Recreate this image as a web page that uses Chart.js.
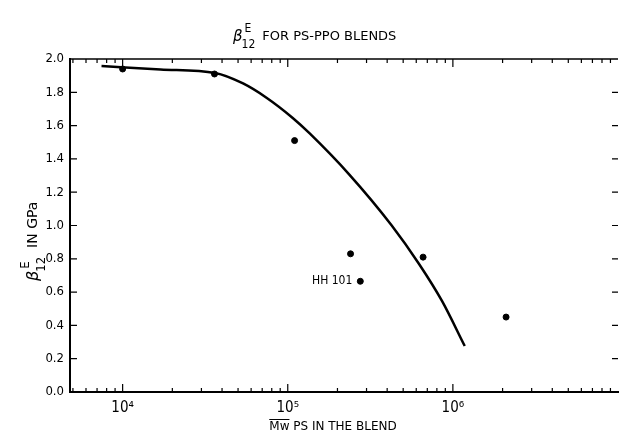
<!DOCTYPE html>
<html>
<head>
<meta charset="utf-8">
<script src="https://cdn.jsdelivr.net/npm/chart.js@4.4.1/dist/chart.umd.min.js"></script>
<style>
  body { margin: 0; background: #fff; }
  #wrap { width: 623px; height: 434px; position: relative; }
</style>
</head>
<body>
<div id="wrap"><canvas id="myChart"></canvas></div>
<script>
// medidas (Mw do PS, modulo em GPa)
var mwPontos = [1.0e4, 3.6e4, 1.1e5, 2.4e5, 2.75e5, 6.6e5, 2.1e6];
var betaPontos = [1.94, 1.91, 1.51, 0.83, 0.665, 0.81, 0.45];
var rotulosPontos = ['', '', '', '', 'HH 101', '', ''];

// curva ajustada
var mwCurva = [7450, 16960, 36300, 53600, 74700, 107200, 135800, 236000, 424000, 624000, 859000, 1180000];
var betaCurva = [1.958, 1.937, 1.916, 1.853, 1.766, 1.646, 1.553, 1.306, 1.003, 0.769, 0.547, 0.276];

// ticks
var xMajor = [1e4, 1e5, 1e6];
var xMajorLabels = ['10⁴', '10⁵', '10⁶'];
var xMin = 4800, xMax = 1e7;
var yMin = 0, yMax = 2.0, yStep = 0.2;

var fonte = '"DejaVu Sans Condensed", "Liberation Sans Narrow", "DejaVu Sans", sans-serif';

function pares(xs, ys) {
    return xs.map(function (x, i) { return { x: x, y: ys[i] }; });
}

// beta com E em cima e 12 embaixo, devolve a largura
function desenhaBeta(ctx, x, y, tam) {
    ctx.font = 'italic ' + (tam + 3) + 'px "DejaVu Sans"';
    ctx.fillText('β', x, y + 1);
    var w = ctx.measureText('β').width;
    ctx.font = tam + 'px ' + fonte;
    ctx.fillText('E', x + w + 2, y - 8);
    ctx.fillText('12', x + w - 1, y + 8);
    return w + ctx.measureText('12').width;
}

var moldura = {
    id: 'moldura',
    afterDraw: function (chart) {
        var ctx = chart.ctx;
        var a = chart.chartArea;
        var xs = chart.scales.x, ys = chart.scales.y;
        ctx.save();
        ctx.fillStyle = '#000';
        ctx.strokeStyle = '#000';

        // borda de cima
        ctx.lineWidth = 1.5;
        ctx.beginPath();
        ctx.moveTo(a.left, a.top);
        ctx.lineTo(a.right, a.top);
        ctx.stroke();

        // ticks do eixo x (embaixo e em cima), para dentro
        ctx.lineWidth = 1.2;
        for (var d = 3; d <= 6; d++) {
            for (var m = 1; m <= 9; m++) {
                var v = m * Math.pow(10, d);
                if (v <= xMin || v >= xMax) continue;
                var px = xs.getPixelForValue(v);
                var len = m === 1 ? 8 : 4;
                ctx.beginPath();
                ctx.moveTo(px, a.bottom);
                ctx.lineTo(px, a.bottom - len);
                ctx.moveTo(px, a.top);
                ctx.lineTo(px, a.top + len);
                ctx.stroke();
            }
        }
        // ticks do eixo y (esquerda e direita)
        for (var t = yMin + yStep; t < yMax - 0.01; t += yStep) {
            var py = ys.getPixelForValue(t);
            ctx.beginPath();
            ctx.moveTo(a.left, py);
            ctx.lineTo(a.left + 7, py);
            ctx.moveTo(a.right, py);
            ctx.lineTo(a.right - 6, py);
            ctx.stroke();
        }

        // titulo
        ctx.textBaseline = 'alphabetic';
        ctx.textAlign = 'left';
        var w = desenhaBeta(ctx, 233, 40, 12);
        ctx.font = '13px "DejaVu Sans"';
        ctx.fillText('FOR PS-PPO BLENDS', 233 + w + 6, 40);

        // titulo do eixo x
        ctx.font = '12px "DejaVu Sans"';
        var txt = 'Mw PS IN THE BLEND';
        var tw = ctx.measureText(txt).width;
        var x0 = 333 - tw / 2;
        ctx.fillText(txt, x0, 430);
        var mw = ctx.measureText('Mw').width;
        ctx.lineWidth = 1;
        ctx.beginPath();
        ctx.moveTo(x0, 419.5);
        ctx.lineTo(x0 + mw, 419.5);
        ctx.stroke();

        // titulo do eixo y (girado)
        ctx.save();
        ctx.translate(37, 281);
        ctx.rotate(-Math.PI / 2);
        var wb = desenhaBeta(ctx, 0, 0, 13);
        ctx.font = '14px "DejaVu Sans"';
        ctx.fillText('IN GPa', wb + 8, 0);
        ctx.restore();

        // rotulo do ponto
        var meta = chart.getDatasetMeta(1);
        ctx.font = '12px ' + fonte;
        ctx.textAlign = 'right';
        ctx.textBaseline = 'middle';
        rotulosPontos.forEach(function (r, i) {
            if (!r) return;
            var p = meta.data[i];
            ctx.fillText(r, p.x - 8, p.y);
        });
        ctx.restore();
    }
};

var config = {
    type: 'scatter',
    data: {
        datasets: [{
            label: 'curva',
            data: pares(mwCurva, betaCurva),
            showLine: true,
            borderColor: '#000',
            borderWidth: 2.5,
            pointRadius: 0,
            cubicInterpolationMode: 'monotone',
            fill: false
        }, {
            label: 'medidas',
            data: pares(mwPontos, betaPontos),
            backgroundColor: '#000',
            borderColor: '#000',
            pointRadius: 3,
            showLine: false
        }]
    },
    options: {
        responsive: true,
        maintainAspectRatio: false,
        animation: false,
        layout: { padding: { top: 59, right: 1, left: 0, bottom: 0 } },
        plugins: {
            legend: { display: false },
            tooltip: { enabled: false }
        },
        scales: {
            x: {
                type: 'logarithmic',
                min: xMin,
                max: xMax,
                afterFit: function (s) { s.height = 42; },
                afterBuildTicks: function (s) {
                    s.ticks = xMajor.map(function (v) { return { value: v }; });
                },
                ticks: {
                    autoSkip: false,
                    maxRotation: 0,
                    padding: 7,
                    color: '#000',
                    font: { family: fonte, size: 15 },
                    callback: function (v) {
                        var i = xMajor.indexOf(v);
                        return i >= 0 ? xMajorLabels[i] : '';
                    }
                },
                grid: { display: true, drawOnChartArea: false, drawTicks: false },
                border: { display: true, width: 2, color: '#000' }
            },
            y: {
                min: yMin,
                max: yMax,
                afterFit: function (s) { s.width = 70; },
                ticks: {
                    stepSize: yStep,
                    padding: 6,
                    color: '#000',
                    font: { family: fonte, size: 13 },
                    callback: function (v) { return v.toFixed(1); }
                },
                grid: { display: true, drawOnChartArea: false, drawTicks: false },
                border: { display: true, width: 2, color: '#000' }
            }
        }
    },
    plugins: [moldura]
};

var myChart = new Chart(document.getElementById('myChart'), config);
</script>
</body>
</html>
